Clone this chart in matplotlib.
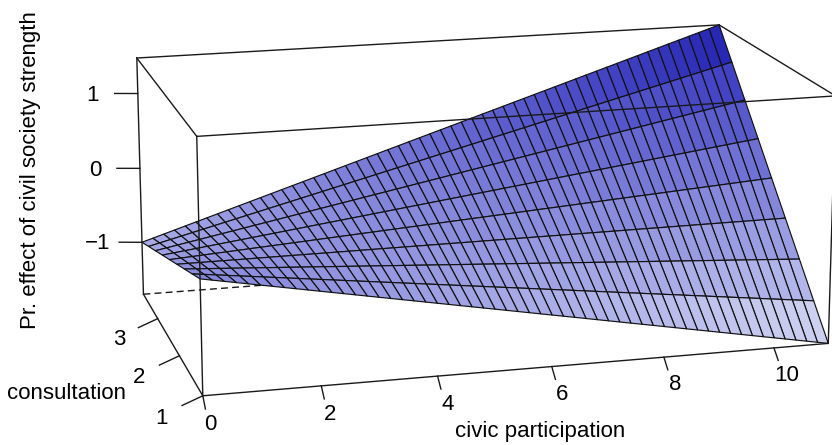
import numpy as np
import matplotlib
matplotlib.use("Agg")
import matplotlib.pyplot as plt
from matplotlib.colors import LinearSegmentedColormap
from mpl_toolkits.mplot3d import proj3d

plt.rcParams["font.family"] = ["Liberation Sans", "DejaVu Sans"]

# grid ranges and predicted effect at the grid corners
civic_range = [0, 11]
consult_range = [1, 3.7]
z_at_civic0 = [-0.26, -1.0]    # consultation = 1, 3.7
z_at_civic11 = [-1.71, 1.47]
n_civic, n_consult = 56, 9
civic_ticks = [0, 2, 4, 6, 8, 10]
consult_ticks = [1, 2, 3]
z_ticks = [-1, 0, 1]
z_tick_labels = ["\u22121", "0", "1"]
surface_colors = ["#dadef3", "#b0b3e9", "#8b8ddd", "#6869d1", "#4343c4", "#1a1aac"]

civic = np.linspace(*civic_range, n_civic)
consult = np.linspace(*consult_range, n_consult)
X, C = np.meshgrid(civic, consult)
u = (X - civic_range[0]) / (civic_range[1] - civic_range[0])
Z = (1 - u) * np.interp(C, consult_range, z_at_civic0) + u * np.interp(C, consult_range, z_at_civic11)
zmin, zmax = Z.min(), Z.max()
x0, x1 = civic_range
y0, y1 = consult_range

W, H = 832, 445
fig = plt.figure(figsize=(W / 100, H / 100), dpi=100)
# view fitted to the original persp() box
S, cx, cy = 732.1, 477.7, 246.8
ax = fig.add_axes([(cx - 0.514 * S) / W, (cy - 0.514 * S) / H, S / W, S / H],
                  projection="3d", computed_zorder=False)
ax.set_axis_off()
ax.view_init(elev=15.06, azim=-105.03)
ax.set_proj_type("persp", focal_length=0.815)
ax.set_box_aspect((1, 0.547, 0.401))
ax.set_xlim(x0, x1)
ax.set_ylim(y0, y1)
ax.set_zlim(zmin, zmax)

zc = 0.25 * (Z[:-1, :-1] + Z[1:, :-1] + Z[:-1, 1:] + Z[1:, 1:])
cmap = LinearSegmentedColormap.from_list("persp_blue", surface_colors)
fc = np.ones(Z.shape + (4,))
fc[:-1, :-1] = cmap((zc - zmin) / (zmax - zmin))
ax.plot_surface(X, C, Z, facecolors=fc, edgecolor="#121212", linewidth=0.85,
                rstride=1, cstride=1, shade=False, antialiased=True, zorder=2)

# box: edges meeting the far corner are hidden (dashed, under the surface)
ink = "#1a1a1a"
corners = [(x, y, z) for x in (x0, x1) for y in (y0, y1) for z in (zmin, zmax)]
far = (x1, y1, zmin)
for i, p in enumerate(corners):
    for q in corners[i + 1:]:
        if sum(a != b for a, b in zip(p, q)) != 1:
            continue
        hidden = far in (p, q)
        ax.plot(*zip(p, q), color=ink, lw=1.0, ls=(0, (5, 3)) if hidden else "-",
                zorder=1 if hidden else 3)

# tick labels as plain 2D text at the projected 3D spot
M = ax.get_proj()


def tick_label(x, y, z, s):
    xs, ys, _ = proj3d.proj_transform(x, y, z, M)
    ax.text2D(float(xs), float(ys), s, transform=ax.transData, ha="center", va="center",
              fontsize=16, zorder=3)


# ticktype = "detailed"
for t in civic_ticks:
    ax.plot([t, t], [y0, y0 - 0.1], [zmin, zmin - 0.113], color=ink, lw=1.0, zorder=3)
    tick_label(t, y0 - 0.29, zmin - 0.21, str(t))
for t in consult_ticks:
    ax.plot([x0, x0 - 0.35], [t, t], [zmin, zmin - 0.1], color=ink, lw=1.0, zorder=3)
    tick_label(x0 - 0.7, t, zmin - 0.245, str(t))
for t, lab in zip(z_ticks, z_tick_labels):
    ax.plot([x0, x0 - 0.4], [y1, y1 + 0.05], [t, t], color=ink, lw=1.0, zorder=3)
    tick_label(x0 - 0.78, y1 + 0.1, t - 0.025, lab)

fig.text(540 / W, 1 - 437 / H, "civic participation", ha="center", va="baseline", fontsize=16)
fig.text(67 / W, 1 - 399 / H, "consultation", ha="center", va="baseline", fontsize=16)
fig.text(31 / W, 1 - 170 / H, "Pr. effect of civil society strength", rotation=90,
         ha="center", va="center", fontsize=16)

fig.savefig("out.png", dpi=100)
